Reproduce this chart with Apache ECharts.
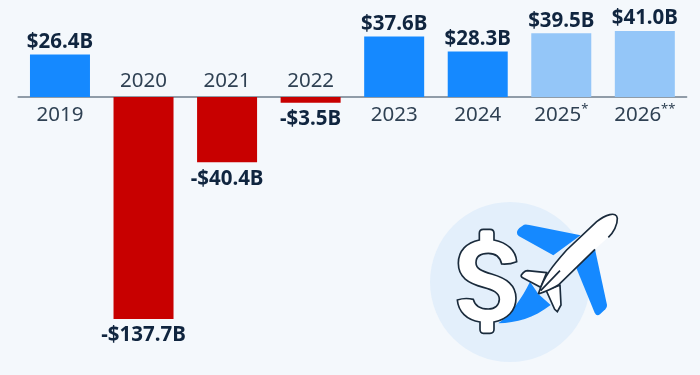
<!DOCTYPE html>
<html>
<head>
<meta charset="utf-8">
<style>
  html, body { margin: 0; padding: 0; background: #f4f8fc; }
  #chart { width: 700px; height: 375px; }
</style>
<script src="https://cdn.jsdelivr.net/npm/echarts@6/dist/echarts.min.js"></script>
</head>
<body>
<div id="chart"></div>
<script>
  var categories = ['2019', '2020', '2021', '2022', '2023', '2024', '2025*', '2026**'];
  var profits = [26.4, -137.7, -40.4, -3.5, 37.6, 28.3, 39.5, 41.0];
  var valueLabels = ['$26.4B', '-$137.7B', '-$40.4B', '-$3.5B', '$37.6B', '$28.3B', '$39.5B', '$41.0B'];
  var forecastYears = ['2025*', '2026**'];
  var yearsAboveAxis = ['2020', '2021', '2022'];

  var font = '"Noto Sans", sans-serif';

  function barColor(i) {
    if (profits[i] < 0) return '#c80000';
    if (forecastYears.indexOf(categories[i]) > -1) return '#94c6f8';
    return '#1589ff';
  }

  // split the footnote stars off so they can be set small and raised
  function yearLabel(c) {
    var stars = c.indexOf('*');
    if (stars < 0) return c;
    return c.slice(0, stars) + '{star|' + c.slice(stars) + '}';
  }

  // icon shapes, drawn in 3x coords and scaled down
  var dollarPath = 'M178 150V130Q178 118 190 118H210Q222 118 222 130V150C262 158 288 182 290 215Q268 224 245 222C240 200 225 190 205 190C182 190 168 200 168 218C168 236 185 243 215 252C260 265 288 285 288 325C288 362 262 388 222 396V418Q222 430 210 430H190Q180 430 180 418V396C140 390 115 365 112 330Q135 322 160 328C165 348 180 357 205 357C225 357 238 345 238 328C238 308 220 300 190 292C145 280 115 262 115 220C115 182 140 158 178 150Z';
  var wingPaths = [
    'M296 138Q284 128 298 114L312 104Q318 102 328 105L482 136L400 196Z',
    'M525 178L561 345Q562 352 556 358L540 373Q530 380 524 368L468 232Z',
    'M330 275L355 312L392 345C340 385 290 398 235 400C275 370 305 325 330 275Z'
  ];
  var finPaths = [
    'M380 248L322 242Q316 242 310 248L304 255Q302 260 308 263L362 292Z',
    'M378 300L420 286L423 345L412 365L404 358Z'
  ];
  var bodyFill = 'M355 312C372 258 400 225 440 180L530 95C555 75 590 62 592 85C593 105 580 128 565 142L525 178L415 285C395 298 375 305 355 312Z';
  var bodyStroke = 'M355 312C372 258 400 225 440 180L530 95C555 75 590 62 592 85C593 105 580 128 565 142M525 178L415 285C395 298 375 305 355 312M362 302L420 242';

  function iconShape(name, pathData) {
    echarts.graphic.registerShape(name, echarts.graphic.extendPath(pathData, {}));
  }
  iconShape('dollarIcon', dollarPath);
  iconShape('wingA', wingPaths[0]);
  iconShape('wingB', wingPaths[1]);
  iconShape('wingC', wingPaths[2]);
  iconShape('finA', finPaths[0]);
  iconShape('finB', finPaths[1]);
  iconShape('bodyFill', bodyFill);
  iconShape('bodyStroke', bodyStroke);

  var blue = { fill: '#1589ff' };
  var outlined = { fill: '#fff', stroke: '#1a2b3c', lineWidth: 5 };

  var chart = echarts.init(document.getElementById('chart'));
  chart.setOption({
    animation: false,
    backgroundColor: '#f4f8fc',
    grid: { left: 18.2, right: 13.4, top: 0.3, height: 354.7 },
    xAxis: {
      type: 'category',
      data: categories,
      axisLine: { onZero: true, lineStyle: { color: '#6f7e8c', width: 1.5 } },
      axisTick: { show: false },
      axisLabel: { show: false }
    },
    yAxis: { type: 'value', min: -160, max: 60, show: false },
    series: [
      {
        type: 'bar',
        barWidth: 60,
        data: profits.map(function (v, i) {
          return {
            value: v,
            itemStyle: { color: barColor(i) },
            label: { position: v < 0 ? 'bottom' : 'top', distance: v < 0 ? 6 : 2 }
          };
        }),
        label: {
          show: true,
          formatter: function (p) { return valueLabels[p.dataIndex]; },
          fontFamily: font,
          fontSize: 20.5,
          fontWeight: 'bold',
          color: '#10253f'
        }
      },
      {
        // year labels sit on the zero line, above or below depending on the bar
        type: 'scatter',
        symbolSize: 0,
        silent: true,
        itemStyle: { opacity: 1 },
        data: categories.map(function (c) {
          var above = yearsAboveAxis.indexOf(c) > -1;
          return {
            value: [c, 0],
            label: { position: above ? 'top' : 'bottom', distance: above ? 4 : 6 }
          };
        }),
        label: {
          show: true,
          formatter: function (p) { return yearLabel(categories[p.dataIndex]); },
          fontFamily: font,
          fontSize: 20.5,
          lineHeight: 24,
          color: '#2f4153',
          rich: {
            star: { fontFamily: font, fontSize: 13, lineHeight: 24, verticalAlign: 'top', color: '#2f4153' }
          }
        }
      }
    ],
    graphic: [
      { type: 'circle', silent: true, shape: { cx: 510, cy: 282, r: 80 }, style: { fill: '#e3effb' } },
      {
        type: 'group',
        silent: true,
        x: 420,
        y: 190,
        scaleX: 1 / 3,
        scaleY: 1 / 3,
        children: [
          { type: 'wingA', style: blue },
          { type: 'wingB', style: blue },
          { type: 'wingC', style: blue },
          { type: 'dollarIcon', style: outlined },
          { type: 'finA', style: outlined },
          { type: 'finB', style: outlined },
          { type: 'bodyFill', style: { fill: '#fff' } },
          { type: 'bodyStroke', style: { fill: 'none', stroke: '#1a2b3c', lineWidth: 5 } }
        ]
      }
    ]
  });
</script>
</body>
</html>
